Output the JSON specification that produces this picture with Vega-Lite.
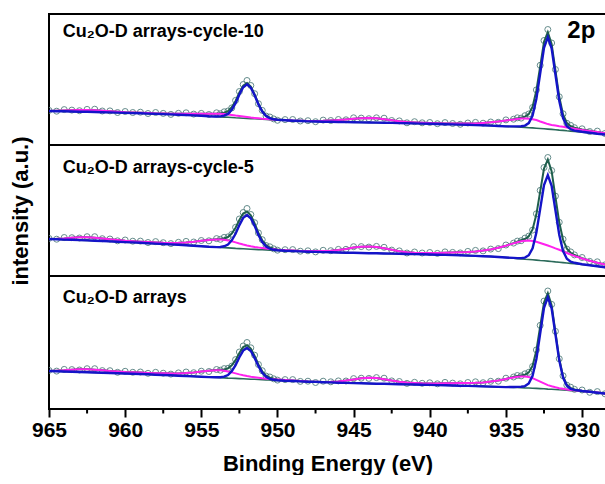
{
"$schema": "https://vega.github.io/schema/vega-lite/v6.json",
"background": "white",
"padding": {"left": 7, "top": 13, "right": 0, "bottom": 0},
"spacing": 0,
"bounds": "flush",
"config": {"view": {"stroke": "black", "strokeWidth": 2}, "font": "Liberation Sans"},
"datasets": {
"A": [
{"e":965,"r":34.6,"f":34.0,"b":34.0,"u":34.0,"m":34.0},
{"e":964.5,"r":33.8,"f":34.2,"b":33.8,"u":33.8,"m":34.2},
{"e":964,"r":35.4,"f":34.5,"b":33.7,"u":33.7,"m":34.5},
{"e":963.5,"r":34.9,"f":34.8,"b":33.5,"u":33.5,"m":34.8},
{"e":963,"r":34.3,"f":35.0,"b":33.3,"u":33.3,"m":35.0},
{"e":962.5,"r":35.6,"f":35.1,"b":33.2,"u":33.2,"m":35.1},
{"e":962,"r":35.8,"f":34.8,"b":33.0,"u":33.0,"m":34.8},
{"e":961.5,"r":34.0,"f":34.3,"b":32.8,"u":32.8,"m":34.3},
{"e":961,"r":34.1,"f":33.8,"b":32.6,"u":32.6,"m":33.8},
{"e":960.5,"r":32.5,"f":33.3,"b":32.4,"u":32.4,"m":33.3},
{"e":960,"r":33.5,"f":32.8,"b":32.1,"u":32.1,"m":32.8},
{"e":959.5,"r":32.5,"f":32.5,"b":31.9,"u":31.9,"m":32.5},
{"e":959,"r":32.8,"f":32.2,"b":31.7,"u":31.7,"m":32.2},
{"e":958.5,"r":31.5,"f":31.9,"b":31.4,"u":31.4,"m":31.9},
{"e":958,"r":32.5,"f":31.6,"b":31.1,"u":31.1,"m":31.6},
{"e":957.5,"r":31.6,"f":31.5,"b":30.9,"u":30.9,"m":31.5},
{"e":957,"r":30.6,"f":31.3,"b":30.6,"u":30.6,"m":31.3},
{"e":956.5,"r":31.7,"f":31.2,"b":30.3,"u":30.3,"m":31.2},
{"e":956,"r":32.2,"f":31.2,"b":30.0,"u":30.0,"m":31.2},
{"e":955.5,"r":30.9,"f":31.2,"b":29.6,"u":29.6,"m":31.2},
{"e":955,"r":31.6,"f":31.3,"b":29.2,"u":29.2,"m":31.3},
{"e":954.5,"r":30.5,"f":31.3,"b":28.7,"u":28.7,"m":31.3},
{"e":954,"r":32.2,"f":31.5,"b":28.3,"u":28.5,"m":31.3},
{"e":953.75,"r":31.3,"f":31.7,"b":28.1,"u":28.6,"m":31.2},
{"e":953.5,"r":33.2,"f":32.3,"b":27.9,"u":29.3,"m":30.9},
{"e":953.25,"r":34.0,"f":33.9,"b":27.7,"u":31.1,"m":30.5},
{"e":953,"r":37.1,"f":37.8,"b":27.5,"u":35.2,"m":30.1},
{"e":952.75,"r":44.6,"f":44.1,"b":27.2,"u":41.8,"m":29.5},
{"e":952.5,"r":53.5,"f":52.5,"b":27.0,"u":50.5,"m":29.0},
{"e":952.25,"r":60.5,"f":59.4,"b":26.8,"u":57.7,"m":28.5},
{"e":952,"r":64.5,"f":62.0,"b":26.6,"u":60.6,"m":28.0},
{"e":951.75,"r":59.5,"f":58.4,"b":26.4,"u":57.3,"m":27.5},
{"e":951.5,"r":51.3,"f":50.6,"b":26.2,"u":49.7,"m":27.1},
{"e":951.25,"r":41.3,"f":41.3,"b":26.0,"u":40.6,"m":26.7},
{"e":951,"r":34.6,"f":34.0,"b":25.8,"u":33.5,"m":26.3},
{"e":950.75,"r":29.0,"f":29.4,"b":25.6,"u":29.0,"m":26.0},
{"e":950.5,"r":28.0,"f":27.1,"b":25.4,"u":26.8,"m":25.7},
{"e":950.25,"r":26.1,"f":26.0,"b":25.2,"u":25.7,"m":25.5},
{"e":950,"r":24.7,"f":25.4,"b":25.0,"u":25.2,"m":25.2},
{"e":949.5,"r":25.4,"f":24.9,"b":24.7,"u":24.7,"m":24.9},
{"e":949,"r":25.5,"f":24.5,"b":24.3,"u":24.3,"m":24.5},
{"e":948.5,"r":24.0,"f":24.3,"b":24.0,"u":24.0,"m":24.3},
{"e":948,"r":24.3,"f":24.0,"b":23.6,"u":23.6,"m":24.0},
{"e":947.5,"r":23.3,"f":24.1,"b":23.5,"u":23.5,"m":24.1},
{"e":947,"r":24.9,"f":24.2,"b":23.3,"u":23.3,"m":24.2},
{"e":946.5,"r":24.5,"f":24.5,"b":23.2,"u":23.2,"m":24.5},
{"e":946,"r":25.5,"f":24.9,"b":23.0,"u":23.0,"m":24.9},
{"e":945.5,"r":25.2,"f":25.6,"b":22.9,"u":22.9,"m":25.6},
{"e":945,"r":27.2,"f":26.3,"b":22.8,"u":22.8,"m":26.3},
{"e":944.5,"r":26.9,"f":26.8,"b":22.6,"u":22.6,"m":26.8},
{"e":944,"r":26.3,"f":27.0,"b":22.5,"u":22.5,"m":27.0},
{"e":943.5,"r":27.2,"f":26.7,"b":22.4,"u":22.4,"m":26.7},
{"e":943,"r":26.8,"f":25.8,"b":22.2,"u":22.2,"m":25.8},
{"e":942.5,"r":24.5,"f":24.8,"b":22.1,"u":22.1,"m":24.8},
{"e":942,"r":24.1,"f":23.8,"b":21.9,"u":21.9,"m":23.8},
{"e":941.5,"r":22.2,"f":23.0,"b":21.7,"u":21.7,"m":23.0},
{"e":941,"r":23.3,"f":22.6,"b":21.6,"u":21.6,"m":22.6},
{"e":940.5,"r":22.2,"f":22.2,"b":21.4,"u":21.4,"m":22.2},
{"e":940,"r":22.5,"f":21.9,"b":21.2,"u":21.2,"m":21.9},
{"e":939.5,"r":21.3,"f":21.7,"b":21.0,"u":21.0,"m":21.7},
{"e":939,"r":22.4,"f":21.5,"b":20.8,"u":20.8,"m":21.5},
{"e":938.5,"r":21.5,"f":21.4,"b":20.6,"u":20.6,"m":21.4},
{"e":938,"r":20.7,"f":21.4,"b":20.4,"u":20.4,"m":21.4},
{"e":937.5,"r":22.0,"f":21.5,"b":20.2,"u":20.2,"m":21.5},
{"e":937,"r":22.6,"f":21.6,"b":19.9,"u":19.9,"m":21.6},
{"e":936.5,"r":21.8,"f":22.1,"b":19.7,"u":19.7,"m":22.1},
{"e":936,"r":23.0,"f":22.7,"b":19.4,"u":19.4,"m":22.7},
{"e":935.5,"r":22.7,"f":23.5,"b":19.0,"u":19.0,"m":23.5},
{"e":935,"r":25.1,"f":24.4,"b":18.6,"u":18.6,"m":24.4},
{"e":934.5,"r":25.8,"f":25.8,"b":18.2,"u":18.6,"m":25.4},
{"e":934.25,"r":27.2,"f":26.6,"b":18.0,"u":18.6,"m":26.0},
{"e":934,"r":26.9,"f":27.3,"b":17.8,"u":18.7,"m":26.4},
{"e":933.75,"r":29.3,"f":28.4,"b":17.6,"u":19.4,"m":26.6},
{"e":933.5,"r":31.0,"f":30.9,"b":17.3,"u":21.9,"m":26.3},
{"e":933.25,"r":37.5,"f":38.2,"b":17.1,"u":29.5,"m":25.8},
{"e":933,"r":55.1,"f":54.6,"b":16.8,"u":46.2,"m":25.0},
{"e":932.75,"r":79.7,"f":78.7,"b":16.5,"u":71.7,"m":23.5},
{"e":932.5,"r":104.5,"f":103.2,"b":16.2,"u":97.2,"m":22.2},
{"e":932.25,"r":115.5,"f":112.9,"b":15.9,"u":107.9,"m":20.9},
{"e":932,"r":102.0,"f":101.1,"b":15.6,"u":96.6,"m":20.1},
{"e":931.75,"r":75.5,"f":74.7,"b":15.3,"u":70.5,"m":19.5},
{"e":931.5,"r":48.2,"f":48.2,"b":14.9,"u":44.3,"m":18.8},
{"e":931.25,"r":31.2,"f":30.6,"b":14.6,"u":27.0,"m":18.2},
{"e":931,"r":21.7,"f":22.1,"b":14.2,"u":18.8,"m":17.5},
{"e":930.75,"r":19.6,"f":18.7,"b":13.9,"u":15.7,"m":16.9},
{"e":930.5,"r":17.3,"f":17.2,"b":13.5,"u":14.4,"m":16.3},
{"e":930,"r":16.2,"f":15.5,"b":12.8,"u":13.2,"m":15.1},
{"e":929.5,"r":13.5,"f":14.2,"b":12.1,"u":12.3,"m":14.0},
{"e":929,"r":13.9,"f":12.9,"b":11.3,"u":11.3,"m":12.9},
{"e":928.5,"r":11.5,"f":11.8,"b":10.5,"u":10.5,"m":11.8},
{"e":928,"r":11.1,"f":10.8,"b":9.8,"u":9.8,"m":10.8}
],
"B": [
{"e":965,"r":37.6,"f":37.0,"b":37.0,"u":37.0,"m":37.0},
{"e":964.5,"r":36.8,"f":37.2,"b":36.7,"u":36.7,"m":37.2},
{"e":964,"r":38.5,"f":37.6,"b":36.4,"u":36.4,"m":37.6},
{"e":963.5,"r":38.3,"f":38.2,"b":36.2,"u":36.2,"m":38.2},
{"e":963,"r":38.0,"f":38.7,"b":35.9,"u":35.9,"m":38.7},
{"e":962.5,"r":39.3,"f":38.8,"b":35.6,"u":35.6,"m":38.8},
{"e":962,"r":39.3,"f":38.3,"b":35.3,"u":35.3,"m":38.3},
{"e":961.5,"r":37.3,"f":37.6,"b":35.0,"u":35.0,"m":37.6},
{"e":961,"r":37.0,"f":36.7,"b":34.6,"u":34.6,"m":36.7},
{"e":960.5,"r":35.2,"f":36.0,"b":34.3,"u":34.3,"m":36.0},
{"e":960,"r":36.0,"f":35.3,"b":33.9,"u":33.9,"m":35.3},
{"e":959.5,"r":34.8,"f":34.8,"b":33.6,"u":33.6,"m":34.8},
{"e":959,"r":34.9,"f":34.3,"b":33.2,"u":33.2,"m":34.3},
{"e":958.5,"r":33.5,"f":33.9,"b":32.8,"u":32.8,"m":33.9},
{"e":958,"r":34.4,"f":33.5,"b":32.4,"u":32.4,"m":33.5},
{"e":957.5,"r":33.3,"f":33.2,"b":32.0,"u":32.0,"m":33.2},
{"e":957,"r":32.4,"f":33.1,"b":31.6,"u":31.6,"m":33.1},
{"e":956.5,"r":33.7,"f":33.2,"b":31.2,"u":31.2,"m":33.2},
{"e":956,"r":34.6,"f":33.6,"b":30.8,"u":30.8,"m":33.6},
{"e":955.5,"r":34.0,"f":34.3,"b":30.3,"u":30.3,"m":34.3},
{"e":955,"r":35.5,"f":35.2,"b":29.8,"u":29.8,"m":35.2},
{"e":954.5,"r":35.2,"f":36.0,"b":29.2,"u":29.2,"m":36.0},
{"e":954,"r":37.4,"f":36.7,"b":28.7,"u":28.9,"m":36.5},
{"e":953.75,"r":36.7,"f":37.1,"b":28.5,"u":29.0,"m":36.6},
{"e":953.5,"r":38.6,"f":37.7,"b":28.3,"u":29.7,"m":36.3},
{"e":953.25,"r":39.1,"f":39.0,"b":28.1,"u":31.5,"m":35.6},
{"e":953,"r":41.7,"f":42.4,"b":27.9,"u":35.6,"m":34.7},
{"e":952.75,"r":48.7,"f":48.2,"b":27.6,"u":42.2,"m":33.6},
{"e":952.5,"r":57.0,"f":56.0,"b":27.4,"u":50.9,"m":32.5},
{"e":952.25,"r":63.5,"f":62.4,"b":27.2,"u":58.1,"m":31.5},
{"e":952,"r":67.5,"f":64.6,"b":27.0,"u":61.0,"m":30.6},
{"e":951.75,"r":61.5,"f":60.7,"b":26.8,"u":57.7,"m":29.8},
{"e":951.5,"r":53.3,"f":52.6,"b":26.6,"u":50.1,"m":29.1},
{"e":951.25,"r":43.1,"f":43.1,"b":26.4,"u":41.0,"m":28.5},
{"e":951,"r":36.3,"f":35.7,"b":26.3,"u":34.0,"m":28.0},
{"e":950.75,"r":30.5,"f":30.9,"b":26.1,"u":29.5,"m":27.5},
{"e":950.5,"r":29.2,"f":28.5,"b":25.9,"u":27.3,"m":27.1},
{"e":950.25,"r":27.2,"f":27.2,"b":25.7,"u":26.2,"m":26.7},
{"e":950,"r":25.8,"f":26.5,"b":25.5,"u":25.7,"m":26.3},
{"e":949.5,"r":26.3,"f":25.8,"b":25.2,"u":25.2,"m":25.8},
{"e":949,"r":26.4,"f":25.4,"b":24.9,"u":24.9,"m":25.4},
{"e":948.5,"r":24.8,"f":25.1,"b":24.6,"u":24.6,"m":25.1},
{"e":948,"r":25.2,"f":24.9,"b":24.3,"u":24.3,"m":24.9},
{"e":947.5,"r":24.1,"f":24.9,"b":24.1,"u":24.1,"m":24.9},
{"e":947,"r":25.7,"f":25.0,"b":23.9,"u":23.9,"m":25.0},
{"e":946.5,"r":25.3,"f":25.3,"b":23.7,"u":23.7,"m":25.3},
{"e":946,"r":26.6,"f":26.0,"b":23.5,"u":23.5,"m":26.0},
{"e":945.5,"r":26.7,"f":27.1,"b":23.3,"u":23.3,"m":27.1},
{"e":945,"r":29.3,"f":28.4,"b":23.2,"u":23.2,"m":28.4},
{"e":944.5,"r":29.4,"f":29.3,"b":23.0,"u":23.0,"m":29.3},
{"e":944,"r":28.9,"f":29.6,"b":22.8,"u":22.8,"m":29.6},
{"e":943.5,"r":29.6,"f":29.1,"b":22.7,"u":22.7,"m":29.1},
{"e":943,"r":28.7,"f":27.7,"b":22.5,"u":22.5,"m":27.7},
{"e":942.5,"r":25.9,"f":26.2,"b":22.4,"u":22.4,"m":26.2},
{"e":942,"r":25.1,"f":24.8,"b":22.2,"u":22.2,"m":24.8},
{"e":941.5,"r":23.0,"f":23.8,"b":22.0,"u":22.0,"m":23.8},
{"e":941,"r":24.0,"f":23.3,"b":21.9,"u":21.9,"m":23.3},
{"e":940.5,"r":23.0,"f":23.0,"b":21.7,"u":21.7,"m":23.0},
{"e":940,"r":23.5,"f":22.9,"b":21.5,"u":21.5,"m":22.9},
{"e":939.5,"r":22.6,"f":23.0,"b":21.3,"u":21.3,"m":23.0},
{"e":939,"r":24.1,"f":23.2,"b":21.1,"u":21.1,"m":23.2},
{"e":938.5,"r":23.6,"f":23.5,"b":20.9,"u":20.9,"m":23.5},
{"e":938,"r":23.1,"f":23.8,"b":20.7,"u":20.7,"m":23.8},
{"e":937.5,"r":24.6,"f":24.1,"b":20.4,"u":20.4,"m":24.1},
{"e":937,"r":25.6,"f":24.6,"b":20.1,"u":20.1,"m":24.6},
{"e":936.5,"r":25.1,"f":25.4,"b":19.8,"u":19.8,"m":25.4},
{"e":936,"r":26.9,"f":26.6,"b":19.5,"u":19.5,"m":26.6},
{"e":935.5,"r":27.4,"f":28.2,"b":19.0,"u":19.0,"m":28.2},
{"e":935,"r":31.0,"f":30.3,"b":18.5,"u":18.5,"m":30.3},
{"e":934.5,"r":32.9,"f":32.9,"b":17.8,"u":18.1,"m":32.6},
{"e":934.25,"r":34.9,"f":34.3,"b":17.4,"u":17.9,"m":33.8},
{"e":934,"r":35.3,"f":35.7,"b":17.0,"u":17.9,"m":34.8},
{"e":933.75,"r":37.9,"f":37.0,"b":16.7,"u":18.4,"m":35.3},
{"e":933.5,"r":39.9,"f":39.8,"b":16.5,"u":20.8,"m":35.5},
{"e":933.25,"r":45.9,"f":46.6,"b":16.2,"u":27.8,"m":35.0},
{"e":933,"r":62.2,"f":61.7,"b":15.9,"u":43.4,"m":34.2},
{"e":932.75,"r":85.6,"f":84.6,"b":15.5,"u":67.1,"m":33.0},
{"e":932.5,"r":108.5,"f":107.5,"b":15.2,"u":90.9,"m":31.8},
{"e":932.25,"r":118.5,"f":116.5,"b":14.9,"u":100.9,"m":30.5},
{"e":932,"r":105.5,"f":104.8,"b":14.5,"u":90.2,"m":29.1},
{"e":931.75,"r":79.9,"f":79.2,"b":14.1,"u":65.7,"m":27.6},
{"e":931.5,"r":53.7,"f":53.7,"b":13.8,"u":41.3,"m":26.2},
{"e":931.25,"r":36.8,"f":36.2,"b":13.4,"u":25.0,"m":24.6},
{"e":931,"r":26.9,"f":27.3,"b":13.0,"u":17.3,"m":23.0},
{"e":930.75,"r":24.1,"f":23.2,"b":12.6,"u":14.3,"m":21.5},
{"e":930.5,"r":21.1,"f":21.0,"b":12.3,"u":13.2,"m":20.1},
{"e":930,"r":18.5,"f":17.8,"b":11.5,"u":11.8,"m":17.5},
{"e":929.5,"r":14.6,"f":15.3,"b":10.7,"u":10.8,"m":15.2},
{"e":929,"r":14.2,"f":13.2,"b":9.8,"u":9.8,"m":13.2},
{"e":928.5,"r":11.1,"f":11.4,"b":8.8,"u":8.8,"m":11.4},
{"e":928,"r":10.3,"f":10.0,"b":8.0,"u":8.0,"m":10.0}
],
"C": [
{"e":965,"r":38.6,"f":38.0,"b":38.0,"u":38.0,"m":38.0},
{"e":964.5,"r":37.9,"f":38.3,"b":37.8,"u":37.8,"m":38.3},
{"e":964,"r":39.6,"f":38.7,"b":37.5,"u":37.5,"m":38.7},
{"e":963.5,"r":39.4,"f":39.3,"b":37.3,"u":37.3,"m":39.3},
{"e":963,"r":39.0,"f":39.7,"b":37.0,"u":37.0,"m":39.7},
{"e":962.5,"r":40.3,"f":39.8,"b":36.8,"u":36.8,"m":39.8},
{"e":962,"r":40.3,"f":39.3,"b":36.5,"u":36.5,"m":39.3},
{"e":961.5,"r":38.4,"f":38.7,"b":36.3,"u":36.3,"m":38.7},
{"e":961,"r":38.3,"f":38.0,"b":36.0,"u":36.0,"m":38.0},
{"e":960.5,"r":36.7,"f":37.5,"b":35.8,"u":35.8,"m":37.5},
{"e":960,"r":37.7,"f":37.0,"b":35.5,"u":35.5,"m":37.0},
{"e":959.5,"r":36.7,"f":36.7,"b":35.3,"u":35.3,"m":36.7},
{"e":959,"r":37.0,"f":36.4,"b":35.0,"u":35.0,"m":36.4},
{"e":958.5,"r":35.7,"f":36.1,"b":34.7,"u":34.7,"m":36.1},
{"e":958,"r":36.7,"f":35.8,"b":34.3,"u":34.3,"m":35.8},
{"e":957.5,"r":35.8,"f":35.7,"b":34.0,"u":34.0,"m":35.7},
{"e":957,"r":34.9,"f":35.6,"b":33.7,"u":33.7,"m":35.6},
{"e":956.5,"r":36.1,"f":35.6,"b":33.3,"u":33.3,"m":35.6},
{"e":956,"r":37.0,"f":36.0,"b":33.0,"u":33.0,"m":36.0},
{"e":955.5,"r":36.3,"f":36.6,"b":32.6,"u":32.6,"m":36.6},
{"e":955,"r":37.8,"f":37.5,"b":32.3,"u":32.3,"m":37.5},
{"e":954.5,"r":37.5,"f":38.3,"b":31.9,"u":31.9,"m":38.3},
{"e":954,"r":39.5,"f":38.9,"b":31.5,"u":31.7,"m":38.7},
{"e":953.75,"r":38.8,"f":39.2,"b":31.3,"u":31.8,"m":38.7},
{"e":953.5,"r":40.4,"f":39.5,"b":31.1,"u":32.3,"m":38.3},
{"e":953.25,"r":40.7,"f":40.6,"b":30.9,"u":34.0,"m":37.5},
{"e":953,"r":42.9,"f":43.6,"b":30.8,"u":37.8,"m":36.6},
{"e":952.75,"r":49.4,"f":48.9,"b":30.6,"u":43.9,"m":35.6},
{"e":952.5,"r":57.0,"f":56.0,"b":30.4,"u":51.8,"m":34.6},
{"e":952.25,"r":63.0,"f":61.9,"b":30.2,"u":58.4,"m":33.7},
{"e":952,"r":66.5,"f":63.9,"b":30.0,"u":61.0,"m":32.9},
{"e":951.75,"r":61.2,"f":60.4,"b":29.8,"u":58.0,"m":32.2},
{"e":951.5,"r":53.8,"f":53.1,"b":29.7,"u":51.1,"m":31.7},
{"e":951.25,"r":44.5,"f":44.5,"b":29.5,"u":42.8,"m":31.2},
{"e":951,"r":38.3,"f":37.7,"b":29.3,"u":36.3,"m":30.7},
{"e":950.75,"r":33.0,"f":33.4,"b":29.1,"u":32.2,"m":30.3},
{"e":950.5,"r":32.0,"f":31.3,"b":29.0,"u":30.2,"m":30.1},
{"e":950.25,"r":30.2,"f":30.2,"b":28.8,"u":29.3,"m":29.7},
{"e":950,"r":28.9,"f":29.6,"b":28.6,"u":28.8,"m":29.4},
{"e":949.5,"r":29.4,"f":28.9,"b":28.3,"u":28.3,"m":28.9},
{"e":949,"r":29.4,"f":28.4,"b":28.0,"u":28.0,"m":28.4},
{"e":948.5,"r":27.6,"f":27.9,"b":27.6,"u":27.6,"m":27.9},
{"e":948,"r":27.8,"f":27.5,"b":27.3,"u":27.3,"m":27.5},
{"e":947.5,"r":26.5,"f":27.3,"b":27.1,"u":27.1,"m":27.3},
{"e":947,"r":27.8,"f":27.1,"b":26.8,"u":26.8,"m":27.1},
{"e":946.5,"r":27.2,"f":27.2,"b":26.6,"u":26.6,"m":27.2},
{"e":946,"r":28.1,"f":27.5,"b":26.3,"u":26.3,"m":27.5},
{"e":945.5,"r":28.0,"f":28.4,"b":26.1,"u":26.1,"m":28.4},
{"e":945,"r":30.4,"f":29.5,"b":25.9,"u":25.9,"m":29.5},
{"e":944.5,"r":30.8,"f":30.7,"b":25.7,"u":25.7,"m":30.7},
{"e":944,"r":30.6,"f":31.3,"b":25.5,"u":25.5,"m":31.3},
{"e":943.5,"r":31.4,"f":30.9,"b":25.3,"u":25.3,"m":30.9},
{"e":943,"r":30.8,"f":29.8,"b":25.2,"u":25.2,"m":29.8},
{"e":942.5,"r":28.1,"f":28.4,"b":25.0,"u":25.0,"m":28.4},
{"e":942,"r":27.5,"f":27.2,"b":24.8,"u":24.8,"m":27.2},
{"e":941.5,"r":25.6,"f":26.4,"b":24.6,"u":24.6,"m":26.4},
{"e":941,"r":26.7,"f":26.0,"b":24.5,"u":24.5,"m":26.0},
{"e":940.5,"r":25.7,"f":25.7,"b":24.3,"u":24.3,"m":25.7},
{"e":940,"r":26.2,"f":25.6,"b":24.1,"u":24.1,"m":25.6},
{"e":939.5,"r":25.2,"f":25.6,"b":23.9,"u":23.9,"m":25.6},
{"e":939,"r":26.6,"f":25.7,"b":23.7,"u":23.7,"m":25.7},
{"e":938.5,"r":25.9,"f":25.8,"b":23.5,"u":23.5,"m":25.8},
{"e":938,"r":25.2,"f":25.9,"b":23.3,"u":23.3,"m":25.9},
{"e":937.5,"r":26.5,"f":26.0,"b":23.1,"u":23.1,"m":26.0},
{"e":937,"r":27.2,"f":26.2,"b":22.9,"u":22.9,"m":26.2},
{"e":936.5,"r":26.3,"f":26.6,"b":22.6,"u":22.6,"m":26.6},
{"e":936,"r":27.7,"f":27.4,"b":22.4,"u":22.4,"m":27.4},
{"e":935.5,"r":27.8,"f":28.6,"b":22.1,"u":22.1,"m":28.6},
{"e":935,"r":30.8,"f":30.1,"b":21.9,"u":21.9,"m":30.1},
{"e":934.5,"r":32.0,"f":32.0,"b":21.6,"u":22.0,"m":31.6},
{"e":934.25,"r":33.5,"f":32.9,"b":21.5,"u":22.1,"m":32.3},
{"e":934,"r":33.1,"f":33.5,"b":21.3,"u":22.2,"m":32.6},
{"e":933.75,"r":35.2,"f":34.3,"b":21.1,"u":22.9,"m":32.5},
{"e":933.5,"r":36.7,"f":36.6,"b":21.0,"u":25.6,"m":32.0},
{"e":933.25,"r":42.5,"f":43.2,"b":20.8,"u":33.2,"m":30.8},
{"e":933,"r":59.1,"f":58.6,"b":20.6,"u":50.0,"m":29.2},
{"e":932.75,"r":83.6,"f":82.6,"b":20.4,"u":75.6,"m":27.4},
{"e":932.5,"r":107.9,"f":106.6,"b":20.2,"u":101.2,"m":25.6},
{"e":932.25,"r":118.0,"f":115.9,"b":19.9,"u":111.9,"m":23.9},
{"e":932,"r":104.6,"f":103.7,"b":19.7,"u":100.7,"m":22.7},
{"e":931.75,"r":77.7,"f":76.9,"b":19.5,"u":74.7,"m":21.7},
{"e":931.5,"r":50.2,"f":50.2,"b":19.2,"u":48.6,"m":20.8},
{"e":931.25,"r":33.2,"f":32.6,"b":19.0,"u":31.4,"m":20.2},
{"e":931,"r":23.8,"f":24.2,"b":18.7,"u":23.3,"m":19.6},
{"e":930.75,"r":21.8,"f":20.9,"b":18.4,"u":20.2,"m":19.1},
{"e":930.5,"r":19.7,"f":19.6,"b":18.2,"u":19.1,"m":18.7},
{"e":930,"r":19.0,"f":18.3,"b":17.6,"u":18.0,"m":17.9},
{"e":929.5,"r":16.7,"f":17.4,"b":17.0,"u":17.2,"m":17.2},
{"e":929,"r":17.4,"f":16.4,"b":16.3,"u":16.3,"m":16.4},
{"e":928.5,"r":15.2,"f":15.5,"b":15.5,"u":15.5,"m":15.5},
{"e":928,"r":15.1,"f":14.8,"b":14.8,"u":14.8,"m":14.8}
],
"minor": [{"e":962.5},{"e":957.5},{"e":952.5},{"e":947.5},{"e":942.5},{"e":937.5},{"e":932.5}]
},
"vconcat": [
{
"width": 557, "height": 131,
"data": {"name": "A"},
"encoding": {"x": {"field": "e", "type": "quantitative", "scale": {"domain": [928.43, 965], "reverse": true, "nice": false, "zero": false}, "axis": null}},
"layer": [
{"mark": {"type": "point", "shape": "circle", "filled": false, "size": 36, "strokeWidth": 1, "color": "#55807f", "opacity": 0.9, "clip": true},
 "encoding": {"y": {"field": "r", "type": "quantitative", "scale": {"domain": [0, 131], "nice": false, "zero": false}, "axis": null}}},
{"mark": {"type": "line", "color": "#2b6a5a", "strokeWidth": 1.6, "clip": true}, "encoding": {"y": {"field": "b", "type": "quantitative", "axis": null}}},
{"mark": {"type": "line", "color": "#1e5e4c", "strokeWidth": 2, "clip": true}, "encoding": {"y": {"field": "f", "type": "quantitative", "axis": null}}},
{"mark": {"type": "line", "color": "#ff22ee", "strokeWidth": 2, "clip": true}, "encoding": {"y": {"field": "m", "type": "quantitative", "axis": null}}},
{"mark": {"type": "line", "color": "#1414c8", "strokeWidth": 2.4, "clip": true}, "encoding": {"y": {"field": "u", "type": "quantitative", "axis": null}}},
{"data": {"values": [{"t": "Cu₂O-D arrays-cycle-10", "e": 964.1, "y": 113}]}, "mark": {"type": "text", "align": "left", "baseline": "middle", "fontSize": 18, "fontWeight": "bold", "font": "Liberation Sans", "color": "black"},
 "encoding": {"y": {"field": "y", "type": "quantitative", "axis": null}, "text": {"field": "t"}}},
{"data": {"values": [{"t": "2p", "e": 930.05, "y": 114}]}, "mark": {"type": "text", "align": "center", "baseline": "middle", "fontSize": 24, "fontWeight": "bold", "font": "Liberation Sans", "color": "black"},
 "encoding": {"y": {"field": "y", "type": "quantitative", "axis": null}, "text": {"field": "t"}}}
]
},
{
"width": 557, "height": 131,
"data": {"name": "B"},
"encoding": {"x": {"field": "e", "type": "quantitative", "scale": {"domain": [928.43, 965], "reverse": true, "nice": false, "zero": false}, "axis": null}},
"layer": [
{"mark": {"type": "point", "shape": "circle", "filled": false, "size": 36, "strokeWidth": 1, "color": "#55807f", "opacity": 0.9, "clip": true},
 "encoding": {"y": {"field": "r", "type": "quantitative", "scale": {"domain": [0, 131], "nice": false, "zero": false},
  "axis": {"title": "intensity (a.u.)", "labels": false, "ticks": false, "domain": false, "grid": false, "titleFontSize": 22, "titleFont": "Liberation Sans", "titleFontWeight": "bold", "titleColor": "black", "titlePadding": 17}}}},
{"mark": {"type": "line", "color": "#2b6a5a", "strokeWidth": 1.6, "clip": true}, "encoding": {"y": {"field": "b", "type": "quantitative",
  "axis": {"title": "intensity (a.u.)", "labels": false, "ticks": false, "domain": false, "grid": false, "titleFontSize": 22, "titleFont": "Liberation Sans", "titleFontWeight": "bold", "titleColor": "black", "titlePadding": 17}}}},
{"mark": {"type": "line", "color": "#1e5e4c", "strokeWidth": 2, "clip": true}, "encoding": {"y": {"field": "f", "type": "quantitative",
  "axis": {"title": "intensity (a.u.)", "labels": false, "ticks": false, "domain": false, "grid": false, "titleFontSize": 22, "titleFont": "Liberation Sans", "titleFontWeight": "bold", "titleColor": "black", "titlePadding": 17}}}},
{"mark": {"type": "line", "color": "#ff22ee", "strokeWidth": 2, "clip": true}, "encoding": {"y": {"field": "m", "type": "quantitative",
  "axis": {"title": "intensity (a.u.)", "labels": false, "ticks": false, "domain": false, "grid": false, "titleFontSize": 22, "titleFont": "Liberation Sans", "titleFontWeight": "bold", "titleColor": "black", "titlePadding": 17}}}},
{"mark": {"type": "line", "color": "#1414c8", "strokeWidth": 2.4, "clip": true}, "encoding": {"y": {"field": "u", "type": "quantitative",
  "axis": {"title": "intensity (a.u.)", "labels": false, "ticks": false, "domain": false, "grid": false, "titleFontSize": 22, "titleFont": "Liberation Sans", "titleFontWeight": "bold", "titleColor": "black", "titlePadding": 17}}}},
{"data": {"values": [{"t": "Cu₂O-D arrays-cycle-5", "e": 964.1, "y": 108}]}, "mark": {"type": "text", "align": "left", "baseline": "middle", "fontSize": 18, "fontWeight": "bold", "font": "Liberation Sans", "color": "black"},
 "encoding": {"y": {"field": "y", "type": "quantitative",
  "axis": {"title": "intensity (a.u.)", "labels": false, "ticks": false, "domain": false, "grid": false, "titleFontSize": 22, "titleFont": "Liberation Sans", "titleFontWeight": "bold", "titleColor": "black", "titlePadding": 17}}, "text": {"field": "t"}}}
]
},
{
"width": 557, "height": 133,
"data": {"name": "C"},
"encoding": {"x": {"field": "e", "type": "quantitative", "scale": {"domain": [928.43, 965], "reverse": true, "nice": false, "zero": false},
  "axis": {"values": [965, 960, 955, 950, 945, 940, 935, 930], "format": "d",
  "tickSize": 8, "tickWidth": 2, "tickColor": "black", "domain": false, "grid": false,
  "labelFontSize": 21, "labelFont": "Liberation Sans", "labelFontWeight": "bold", "labelColor": "black", "labelPadding": 2, "labelFlush": false, "labelOverlap": false,
  "title": "Binding Energy (eV)", "titleFontSize": 22, "titleFont": "Liberation Sans", "titleFontWeight": "bold", "titleColor": "black", "titlePadding": 13}}},
"layer": [
{"mark": {"type": "point", "shape": "circle", "filled": false, "size": 36, "strokeWidth": 1, "color": "#55807f", "opacity": 0.9, "clip": true},
 "encoding": {"y": {"field": "r", "type": "quantitative", "scale": {"domain": [0, 133], "nice": false, "zero": false}, "axis": null}}},
{"mark": {"type": "line", "color": "#2b6a5a", "strokeWidth": 1.6, "clip": true}, "encoding": {"y": {"field": "b", "type": "quantitative", "axis": null}}},
{"mark": {"type": "line", "color": "#1e5e4c", "strokeWidth": 2, "clip": true}, "encoding": {"y": {"field": "f", "type": "quantitative", "axis": null}}},
{"mark": {"type": "line", "color": "#ff22ee", "strokeWidth": 2, "clip": true}, "encoding": {"y": {"field": "m", "type": "quantitative", "axis": null}}},
{"mark": {"type": "line", "color": "#1414c8", "strokeWidth": 2.4, "clip": true}, "encoding": {"y": {"field": "u", "type": "quantitative", "axis": null}}},
{"data": {"name": "minor"}, "mark": {"type": "rule", "color": "black", "strokeWidth": 2, "clip": false},
 "encoding": {"y": {"datum": 0, "axis": null}, "y2": {"datum": -4.5}}},
{"data": {"values": [{"t": "Cu₂O-D arrays", "e": 964.1, "y": 111}]}, "mark": {"type": "text", "align": "left", "baseline": "middle", "fontSize": 18, "fontWeight": "bold", "font": "Liberation Sans", "color": "black"},
 "encoding": {"y": {"field": "y", "type": "quantitative", "axis": null}, "text": {"field": "t"}}}
]
}
]
}
